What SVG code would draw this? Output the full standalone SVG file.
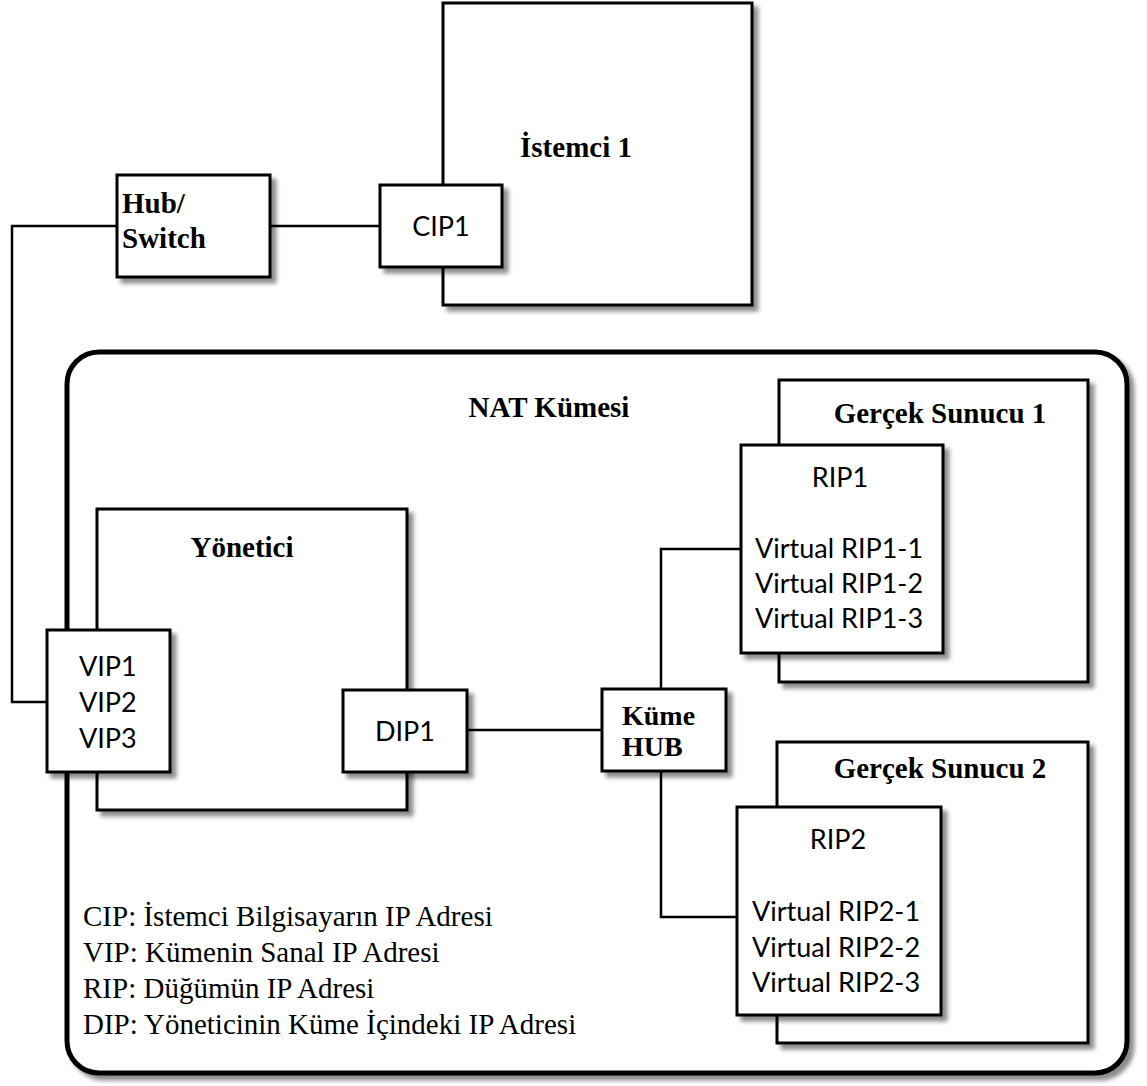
<svg xmlns="http://www.w3.org/2000/svg" width="1147" height="1086" viewBox="0 0 1147 1086">
<defs>
<filter id="sh" x="-10%" y="-10%" width="130%" height="130%">
<feDropShadow dx="5" dy="5" stdDeviation="2" flood-color="#000" flood-opacity="0.45"/>
</filter>
<style>
.box{fill:#fff;stroke:#000;stroke-width:3;filter:url(#sh)}
.nat{fill:#fff;stroke:#000;stroke-width:5;filter:url(#sh)}
.ln{fill:none;stroke:#000;stroke-width:2.5}
.bl{font-family:"Liberation Serif","Times New Roman",serif;font-weight:bold;font-size:29px;fill:#000}
.bs{font-size:28px}
.sn{font-family:Lato,"DejaVu Sans",sans-serif;font-size:27px;fill:#000}
.lg{font-family:"Liberation Serif","Times New Roman",serif;font-size:29px;fill:#000}
</style>
</defs>
<rect width="1147" height="1086" fill="#fff"/>
<g id="istemci1">
<rect class="box" x="443" y="3" width="309" height="302"/>
<text class="bl" x="576" y="157" text-anchor="middle">İstemci 1</text>
</g>
<g id="nat-kumesi">
<rect class="nat" x="67" y="352" width="1060" height="721" rx="32" ry="32"/>
<text class="bl" x="549" y="417" text-anchor="middle">NAT Kümesi</text>
</g>
<g id="connectors">
<polyline class="ln" points="117,226 12,226 12,702 47,702"/>
<line class="ln" x1="270" y1="226" x2="380" y2="226"/>
<line class="ln" x1="467" y1="730" x2="602" y2="730"/>
<polyline class="ln" points="661,689 661,549 741,549"/>
<polyline class="ln" points="661,771 661,917 737,917"/>
</g>
<g id="hub-switch">
<rect class="box" x="117" y="175" width="153" height="102"/>
<text class="bl" x="122" y="213">Hub/</text>
<text class="bl" x="122" y="248">Switch</text>
</g>
<g id="cip1">
<rect class="box" x="380" y="185" width="122" height="82"/>
<text class="sn" x="441" y="236" text-anchor="middle">CIP1</text>
</g>
<g id="yonetici">
<rect class="box" x="97" y="509" width="310" height="301"/>
<text class="bl" x="242" y="557" text-anchor="middle">Yönetici</text>
</g>
<g id="vip">
<rect class="box" x="47" y="630" width="123" height="142"/>
<text class="sn" x="79" y="676">VIP1</text>
<text class="sn" x="79" y="712">VIP2</text>
<text class="sn" x="79" y="748">VIP3</text>
</g>
<g id="dip1">
<rect class="box" x="343" y="690" width="124" height="82"/>
<text class="sn" x="405" y="741" text-anchor="middle">DIP1</text>
</g>
<g id="kume-hub">
<rect class="box" x="602" y="689" width="124" height="82"/>
<text class="bl bs" x="622" y="725">Küme</text>
<text class="bl bs" x="622" y="756">HUB</text>
</g>
<g id="gercek-sunucu-1">
<rect class="box" x="779" y="380" width="309" height="302"/>
<text class="bl" x="940" y="423" text-anchor="middle">Gerçek Sunucu 1</text>
</g>
<g id="rip1">
<rect class="box" x="741" y="445" width="202" height="208"/>
<text class="sn" x="840" y="487" text-anchor="middle">RIP1</text>
<text class="sn" x="755" y="558">Virtual RIP1-1</text>
<text class="sn" x="755" y="593">Virtual RIP1-2</text>
<text class="sn" x="755" y="628">Virtual RIP1-3</text>
</g>
<g id="gercek-sunucu-2">
<rect class="box" x="777" y="742" width="311" height="301"/>
<text class="bl" x="940" y="778" text-anchor="middle">Gerçek Sunucu 2</text>
</g>
<g id="rip2">
<rect class="box" x="737" y="807" width="204" height="208"/>
<text class="sn" x="838" y="849" text-anchor="middle">RIP2</text>
<text class="sn" x="752" y="921">Virtual RIP2-1</text>
<text class="sn" x="752" y="957">Virtual RIP2-2</text>
<text class="sn" x="752" y="992">Virtual RIP2-3</text>
</g>
<g id="legend">
<text class="lg" x="83" y="926">CIP: İstemci Bilgisayarın IP Adresi</text>
<text class="lg" x="83" y="962">VIP: Kümenin Sanal IP Adresi</text>
<text class="lg" x="83" y="998">RIP: Düğümün IP Adresi</text>
<text class="lg" x="83" y="1034">DIP: Yöneticinin Küme İçindeki IP Adresi</text>
</g>
</svg>
